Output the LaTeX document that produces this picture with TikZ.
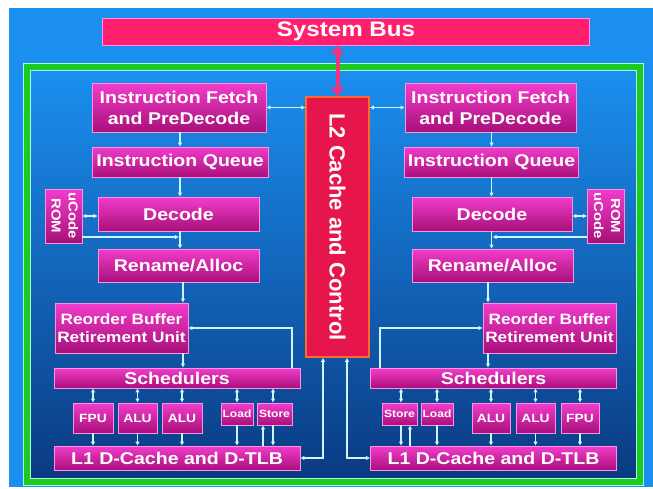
\documentclass[tikz,border=0pt]{standalone}
\usepackage{fontspec}
\usepackage{graphicx}
\newfontfamily\boxfont{Liberation Sans}[FakeStretch=1.15]
\newfontfamily\plainfont{Liberation Sans}
\usetikzlibrary{arrows.meta}

\definecolor{skyblue}{HTML}{1B8FF0}
\definecolor{midblue}{HTML}{1570D6}
\definecolor{deepblue}{HTML}{0A3A82}
\definecolor{framegreen}{HTML}{1BCB1F}
\definecolor{frameline}{HTML}{A8FFE0}
\definecolor{boxtop}{HTML}{F23CCB}
\definecolor{boxbot}{HTML}{A8107A}
\definecolor{boxedge}{HTML}{FF90EA}
\definecolor{busred}{HTML}{FF1F6C}
\definecolor{buslink}{HTML}{F2347E}
\definecolor{cachered}{HTML}{E6164C}
\definecolor{cacheedge}{HTML}{FF6A2A}
\definecolor{wire}{HTML}{CFF4FF}

\begin{document}
\begin{tikzpicture}[x=1pt,y=-1pt,
    unit/.style={draw=boxedge, line width=0.6pt, top color=boxtop, bottom color=boxbot,
      text=white, inner sep=0pt, align=center,
      font=\boxfont\bfseries\fontsize{17}{21}\selectfont},
    robbox/.style={unit, font=\boxfont\bfseries\fontsize{15}{18.5}\selectfont},
    small/.style={unit, font=\boxfont\bfseries\fontsize{12}{14}\selectfont},
    tiny/.style={unit, font=\boxfont\bfseries\fontsize{10.5}{12}\selectfont},
    rombox/.style={unit, minimum width=37, minimum height=54,
      font=\boxfont\bfseries\fontsize{13}{17}\selectfont},
    busbox/.style={fill=busred, draw=boxedge, line width=0.6pt, text=white,
      inner sep=0pt, font=\boxfont\bfseries\fontsize{21}{24}\selectfont},
    l2box/.style={fill=cachered, draw=cacheedge, line width=1.5pt, text=white,
      inner sep=0pt, font=\plainfont\bfseries\fontsize{22}{24}\selectfont},
    flow/.style={draw=wire, line width=1.2pt, -{Latex[length=4pt,width=4.5pt]}},
    both/.style={flow, {Latex[length=4pt,width=4.5pt]}-{Latex[length=4pt,width=4.5pt]}}]

  \useasboundingbox (0,0) rectangle (653,488);
  % background and frame
  \fill[white] (0,0) rectangle (653,488);
  \fill[skyblue] (9,8) rectangle (653,487);
  \shade[top color=skyblue, middle color=midblue, bottom color=deepblue] (30,70) rectangle (636,478);
  \draw[framegreen, line width=6pt] (26.5,66.5) rectangle (639.5,481.5);
  \draw[frameline, line width=0.8pt] (23,63) rectangle (643,485);
  \draw[frameline, line width=0.8pt] (30,70) rectangle (636,478);

  \node[busbox, minimum width=487, minimum height=27] (bus) at (346,31.5) {System Bus};
  \node[l2box, minimum width=63, minimum height=260] (l2) at (337.5,227)
    {\rotatebox{-90}{L2 Cache and Control}};

  % left core
  \node[unit, minimum width=174, minimum height=49] (ifL) at (179,107.5) {Instruction Fetch\\and PreDecode};
  \node[unit, minimum width=176, minimum height=30] (iqL) at (180,162) {Instruction Queue};
  \node[unit, minimum width=161, minimum height=34] (decL) at (178.5,214) {Decode};
  \node[rombox] (ucL) at (63.5,216)
    {\rotatebox{-90}{\begin{tabular}{@{}c@{}}uCode\\ROM\end{tabular}}};
  \node[unit, minimum width=161, minimum height=33] (renL) at (178.5,265.5) {Rename/Alloc};
  \node[robbox, minimum width=133, minimum height=50] (robL) at (121.5,328) {Reorder Buffer\\Retirement Unit};
  \node[unit, minimum width=246, minimum height=20] (schL) at (177,378) {Schedulers};
  \node[small, minimum width=40, minimum height=30] (fpuL) at (93,418) {FPU};
  \node[small, minimum width=39, minimum height=30] (aluaL) at (137.5,418) {ALU};
  \node[small, minimum width=40, minimum height=30] (alubL) at (182,418) {ALU};
  \node[tiny, minimum width=32, minimum height=22] (loadL) at (237,414) {Load};
  \node[tiny, minimum width=35, minimum height=22] (storeL) at (274.5,414) {Store};
  \node[unit, minimum width=246, minimum height=24] (l1L) at (177,458) {L1 D-Cache and D-TLB};

  % right core
  \node[unit, minimum width=171, minimum height=49] (ifR) at (490.5,107.5) {Instruction Fetch\\and PreDecode};
  \node[unit, minimum width=174, minimum height=30] (iqR) at (491.5,162) {Instruction Queue};
  \node[unit, minimum width=160, minimum height=34] (decR) at (492,214) {Decode};
  \node[rombox] (ucR) at (606,216)
    {\rotatebox{-90}{\begin{tabular}{@{}c@{}}ROM\\uCode\end{tabular}}};
  \node[unit, minimum width=161, minimum height=33] (renR) at (492.5,265.5) {Rename/Alloc};
  \node[robbox, minimum width=133, minimum height=50] (robR) at (549.5,328) {Reorder Buffer\\Retirement Unit};
  \node[unit, minimum width=246, minimum height=20] (schR) at (493.5,378) {Schedulers};
  \node[tiny, minimum width=35, minimum height=22] (storeR) at (399.5,414) {Store};
  \node[tiny, minimum width=32, minimum height=22] (loadR) at (437,414) {Load};
  \node[small, minimum width=38, minimum height=30] (aluaR) at (491,418) {ALU};
  \node[small, minimum width=39, minimum height=30] (alubR) at (535.5,418) {ALU};
  \node[small, minimum width=38, minimum height=30] (fpuR) at (580,418) {FPU};
  \node[unit, minimum width=246, minimum height=24] (l1R) at (493.5,458) {L1 D-Cache and D-TLB};

  % system bus link
  \draw[buslink, line width=4pt, {Triangle[length=9pt,width=13pt]}-{Triangle[length=9pt,width=13pt]}]
    (l2.north) -- (l2.north |- bus.south);

  % front end, left
  \draw[both] (ifL.east) -- (ifL.east -| l2.west);
  \draw[flow] (iqL.north |- ifL.south) -- (iqL.north);
  \draw[flow] (iqL.south) -- (iqL.south |- decL.north);
  \draw[flow] (iqL.south |- decL.south) -- (iqL.south |- renL.north);
  \draw[both] (ucL.east) -- (ucL.east -| decL.west);
  \coordinate (romL) at ([yshift=-21pt]ucL.east);
  \draw[flow, shorten >=1pt] (romL) -- (romL -| iqL.south);
  \coordinate (retL) at ([xshift=4.5pt]renL.south);
  \draw[flow] (retL) -- (retL |- robL.north);
  \draw[flow] (retL |- robL.south) -- (retL |- schL.north);
  \draw[flow] ([xshift=115pt]schL.north) |- (robL.east);

  % front end, right
  \draw[both] (l2.east |- ifR.west) -- (ifR.west);
  \draw[flow] (iqR.north |- ifR.south) -- (iqR.north);
  \draw[flow] (iqR.south) -- (iqR.south |- decR.north);
  \draw[flow] (iqR.south |- decR.south) -- (iqR.south |- renR.north);
  \draw[both] (ucR.west) -- (ucR.west -| decR.east);
  \coordinate (romR) at ([yshift=-21pt]ucR.west);
  \draw[flow, shorten >=1pt] (romR) -- (romR -| iqR.south);
  \coordinate (retR) at ([xshift=-4.5pt]renR.south);
  \draw[flow] (retR) -- (retR |- robR.north);
  \draw[flow] (retR |- robR.south) -- (retR |- schR.north);
  \draw[flow] ([xshift=-113.5pt]schR.north) |- (robR.west);

  % execution units
  \foreach \u in {fpuL,aluaL,alubL,loadL,fpuR,aluaR,alubR,loadR} {
    \draw[both] (\u.north |- schL.south) -- (\u.north);
    \draw[flow] (\u.south) -- (\u.south |- l1L.north);
  }
  \draw[both] ([xshift=-1.5pt]storeL.north |- schL.south) -- ([xshift=-1.5pt]storeL.north);
  \draw[flow] ([xshift=-1.5pt]storeL.south) -- ([xshift=-1.5pt]storeL.south |- l1L.north);
  \draw[flow] ([xshift=-11.5pt]storeL.south |- l1L.north) -- ([xshift=-11.5pt]storeL.south);
  \draw[both] ([xshift=1.5pt]storeR.north |- schR.south) -- ([xshift=1.5pt]storeR.north);
  \draw[flow] ([xshift=1.5pt]storeR.south) -- ([xshift=1.5pt]storeR.south |- l1R.north);
  \draw[flow] ([xshift=10.5pt]storeR.south |- l1R.north) -- ([xshift=10.5pt]storeR.south);

  % L2 to L1
  \draw[both] ([xshift=-14.5pt]l2.south) |- (l1L.east);
  \draw[both] ([xshift=9.5pt]l2.south) |- (l1R.west);
\end{tikzpicture}
\end{document}
